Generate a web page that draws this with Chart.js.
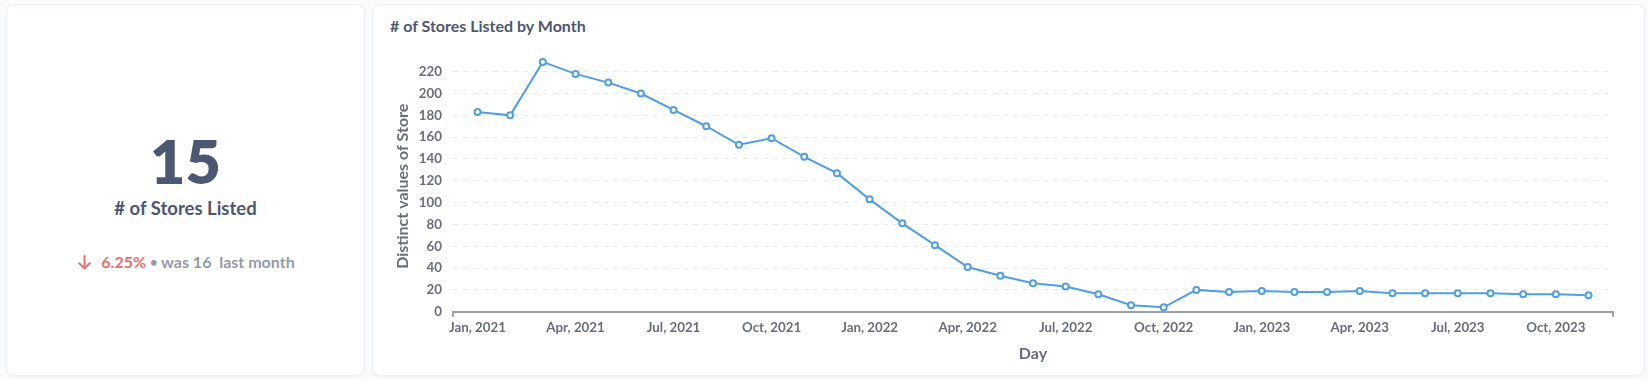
<!DOCTYPE html>
<html>
<head>
<meta charset="utf-8">
<script src="https://cdn.jsdelivr.net/npm/chart.js@4.4.1/dist/chart.umd.min.js"></script>
<style>
  html, body { margin:0; padding:0; }
  body { width:1648px; height:380px; background:#f9fbfc; position:relative; overflow:hidden; font-family:Lato, "Open Sans", sans-serif; }
  .card { position:absolute; background:#fff; border:1px solid #eef0f3; border-radius:8px; box-shadow:0 1px 3px rgba(0,0,0,0.05); box-sizing:border-box; }
  #left { left:6px; top:4px; width:359px; height:372px; }
  #right { left:372px; top:4px; width:1273px; height:372px; }
  .c { position:absolute; left:0; width:100%; text-align:center; white-space:nowrap; }
  #big { top:125px; font-size:61px; font-weight:800; color:#4c5773; line-height:61px; }
  #lab { top:192px; font-size:18.5px; font-weight:700; color:#4c5773; line-height:22px; }
  #sub { top:247px; font-size:16px; font-weight:700; color:#949aab; line-height:20px; display:flex; justify-content:center; align-items:center; }
  #sub .red { color:#ed6e6e; }
  #sub svg { margin-right:10px; margin-left:2px; }
  #title { position:absolute; left:17px; top:10.7px; font-size:16px; font-weight:700; color:#4c5773; line-height:20px; }
  #wrap { position:absolute; left:0; top:36px; width:1273px; height:336px; }
</style>
</head>
<body>
<div id="left" class="card">
  <div id="big" class="c">15</div>
  <div id="lab" class="c"># of Stores Listed</div>
  <div id="sub" class="c">
    <svg width="13" height="15" viewBox="0 0 13 15"><path d="M6.5 1 V13.5 M1.2 8.3 L6.5 13.5 L11.8 8.3" fill="none" stroke="#ed6e6e" stroke-width="2" stroke-linecap="round" stroke-linejoin="round"/></svg>
    <span class="red">6.25%</span>&nbsp;<span style="font-size:13px">&#8226;</span>&nbsp;was 16&nbsp;&nbsp;last month
  </div>
</div>
<div id="right" class="card">
  <div id="title"># of Stores Listed by Month</div>
  <div id="wrap"><canvas id="chart" width="1273" height="336"></canvas></div>
</div>
<script>
const months = [
  "Jan, 2021","Feb, 2021","Mar, 2021","Apr, 2021","May, 2021","Jun, 2021",
  "Jul, 2021","Aug, 2021","Sep, 2021","Oct, 2021","Nov, 2021","Dec, 2021",
  "Jan, 2022","Feb, 2022","Mar, 2022","Apr, 2022","May, 2022","Jun, 2022",
  "Jul, 2022","Aug, 2022","Sep, 2022","Oct, 2022","Nov, 2022","Dec, 2022",
  "Jan, 2023","Feb, 2023","Mar, 2023","Apr, 2023","May, 2023","Jun, 2023",
  "Jul, 2023","Aug, 2023","Sep, 2023","Oct, 2023","Nov, 2023"
];
const stores = [
  183, 180, 229, 218, 210, 200, 185, 170, 153, 159, 142, 127,
  103, 81, 61, 41, 33, 26, 23, 16, 6, 4, 20, 18,
  19, 18, 18, 19, 17, 17, 17, 17, 16, 16, 15
];
const xTickLabels = ["Jan, 2021","Apr, 2021","Jul, 2021","Oct, 2021","Jan, 2022","Apr, 2022","Jul, 2022","Oct, 2022","Jan, 2023","Apr, 2023","Jul, 2023","Oct, 2023"];
const yTicks = [0,20,40,60,80,100,120,140,160,180,200,220];

const X_MIN = -0.75, X_MAX = months.length - 1 + 0.75;
const tickIdx = xTickLabels.map(l => months.indexOf(l));
const tickColor = '#696e7b';

new Chart(document.getElementById('chart'), {
  type: 'line',
  data: {
    datasets: [{
      data: stores.map((v, i) => ({ x: i, y: v })),
      borderColor: '#509ee3',
      borderWidth: 2,
      pointRadius: 3,
      pointBorderWidth: 2,
      pointBackgroundColor: '#ffffff',
      pointBorderColor: '#509ee3',
      tension: 0,
      fill: false,
      clip: false
    }]
  },
  options: {
    responsive: false,
    animation: false,
    devicePixelRatio: 1,
    layout: { padding: { left: 0, top: 19.8, right: 33, bottom: 0 } },
    plugins: { legend: { display: false }, tooltip: { enabled: false } },
    scales: {
      x: {
        type: 'linear',
        min: X_MIN, max: X_MAX,
        afterBuildTicks: s => { s.ticks = [X_MIN, ...tickIdx, X_MAX].map(v => ({ value: v })); },
        afterFit: s => { s.height = 65.3; },
        ticks: {
          autoSkip: false, maxRotation: 0, padding: 3,
          color: tickColor,
          font: { family: 'Lato', size: 13.3, weight: 'bold' },
          callback: v => { const i = tickIdx.indexOf(v); return i >= 0 ? xTickLabels[i] : ''; }
        },
        grid: {
          drawOnChartArea: false, drawTicks: true, tickLength: 5, lineWidth: 2,
          color: c => (c.tick && (c.tick.value === X_MIN || c.tick.value === X_MAX)) ? '#9ca0af' : 'rgba(0,0,0,0)'
        },
        border: { display: true, color: '#9ca0af', width: 2 },
        title: {
          display: true, text: 'Day', color: tickColor,
          font: { family: 'Lato', size: 16, weight: 'bold' },
          padding: { top: 0, bottom: 13.4 }
        }
      },
      y: {
        type: 'linear',
        min: 0, max: 230,
        afterBuildTicks: s => { s.ticks = yTicks.map(v => ({ value: v })); },
        afterFit: s => { s.width = 80; },
        ticks: {
          padding: 11, color: tickColor,
          font: { family: 'Lato', size: 13.3, weight: 'bold' }
        },
        grid: { drawTicks: false, color: '#e9ebef', lineWidth: 1 },
        border: { display: false, dash: [5, 5] },
        title: {
          display: true, text: 'Distinct values of Store', color: tickColor,
          font: { family: 'Lato', size: 16, weight: 'bold' },
          padding: { top: 20.1, bottom: 0 }
        }
      }
    }
  }
});
</script>
</body>
</html>
